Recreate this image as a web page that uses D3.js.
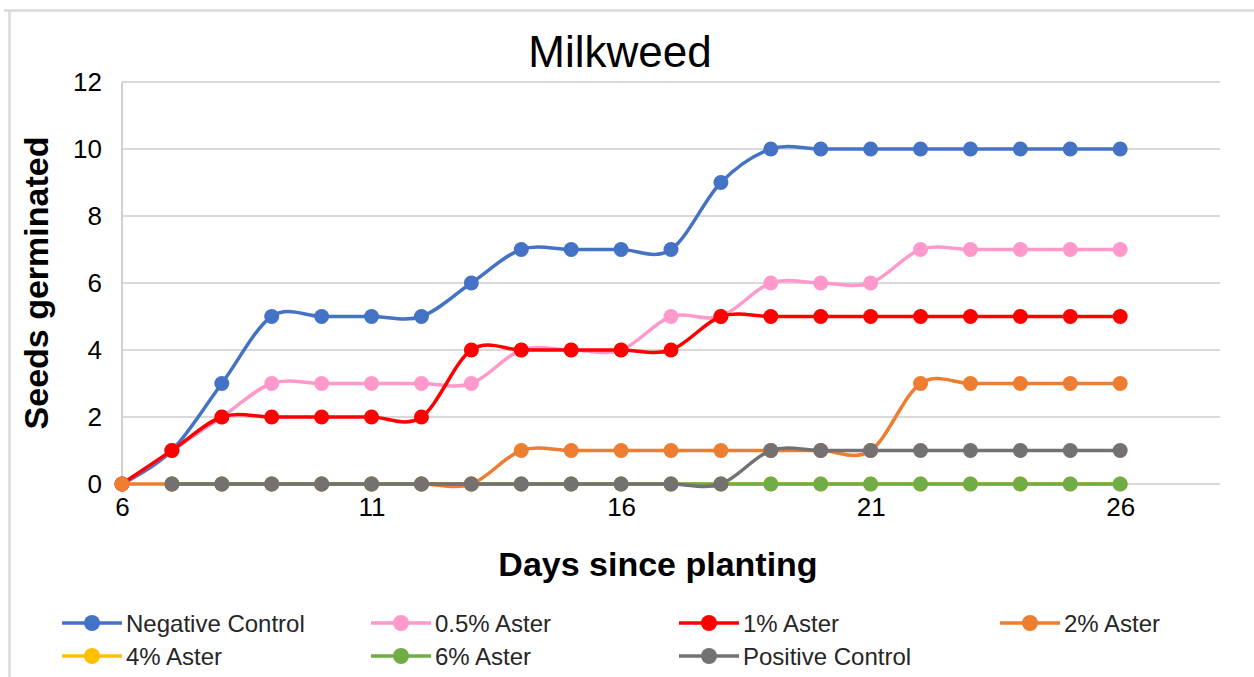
<!DOCTYPE html>
<html>
<head>
<meta charset="utf-8">
<script src="https://cdn.jsdelivr.net/npm/d3@7"></script>
<style>
  html, body { margin: 0; padding: 0; background: #fff; }
  svg { display: block; }
</style>
</head>
<body>
<svg id="chart" width="1254" height="677"></svg>
<script>
// Germination counts per day since planting (null = not recorded that day)
const days = [6, 7, 8, 9, 10, 11, 12, 13, 14, 15, 16, 17, 18, 19, 20, 21, 22, 23, 24, 25, 26];

const negativeControl = [0, 1, 3, 5, 5, 5, 5, 6, 7, 7, 7, 7, 9, 10, 10, 10, 10, 10, 10, 10, 10];
const aster05 = [0, 1, 2, 3, 3, 3, 3, 3, 4, 4, 4, 5, 5, 6, 6, 6, 7, 7, 7, 7, 7];
const aster1 = [0, 1, 2, 2, 2, 2, 2, 4, 4, 4, 4, 4, 5, 5, 5, 5, 5, 5, 5, 5, 5];
const aster2 = [0, 0, 0, 0, 0, 0, 0, 0, 1, 1, 1, 1, 1, 1, 1, 1, 3, 3, 3, 3, 3];
const aster4 = [null, 0, 0, 0, 0, 0, 0, 0, 0, 0, 0, 0, 0, 0, 0, 0, 0, 0, 0, 0, 0];
const aster6 = [null, 0, 0, 0, 0, 0, 0, 0, 0, 0, 0, 0, 0, 0, 0, 0, 0, 0, 0, 0, 0];
const positiveControl = [null, 0, 0, 0, 0, 0, 0, 0, 0, 0, 0, 0, 0, 1, 1, 1, 1, 1, 1, 1, 1];

const seriesNames = ["Negative Control", "0.5% Aster", "1% Aster", "2% Aster", "4% Aster", "6% Aster", "Positive Control"];
const seriesValues = [negativeControl, aster05, aster1, aster2, aster4, aster6, positiveControl];
const seriesColors = ["#4472C4", "#FF99CC", "#FF0000", "#ED7D31", "#FFC000", "#70AD47", "#767171"];

const xTicks = [6, 11, 16, 21, 26];
const yTicks = [0, 2, 4, 6, 8, 10, 12];

const svg = d3.select("#chart");
const font = "'Liberation Sans', Arial, sans-serif";

// outer frame (top and left edges)
svg.append("line").attr("x1", 4).attr("x2", 1254).attr("y1", 10.5).attr("y2", 10.5)
  .attr("stroke", "#d9d9d9").attr("stroke-width", 2.5);
svg.append("line").attr("x1", 9.5).attr("x2", 9.5).attr("y1", 10).attr("y2", 677)
  .attr("stroke", "#d9d9d9").attr("stroke-width", 2.5);

const x = d3.scaleLinear().domain([6, 28]).range([122, 1220]);
const y = d3.scaleLinear().domain([0, 12]).range([484, 82]);

// horizontal gridlines
svg.append("g").selectAll("line").data(yTicks).join("line")
  .attr("x1", x(6)).attr("x2", x(28))
  .attr("y1", d => y(d)).attr("y2", d => y(d))
  .attr("stroke", "#d9d9d9").attr("stroke-width", 2);

// vertical axis line
svg.append("line").attr("x1", x(6)).attr("x2", x(6)).attr("y1", y(12)).attr("y2", y(0))
  .attr("stroke", "#d0d0d0").attr("stroke-width", 2);

// y axis tick labels
const yAxis = svg.append("g").attr("transform", `translate(${x(6) - 20},0)`)
  .call(d3.axisLeft(y).tickValues(yTicks).tickSize(0).tickPadding(0));
yAxis.select(".domain").remove();
yAxis.selectAll("text").attr("font-family", font).attr("font-size", 26).attr("fill", "#000");

// x axis tick labels
const xAxis = svg.append("g").attr("transform", `translate(0,${y(0) + 14})`)
  .call(d3.axisBottom(x).tickValues(xTicks).tickFormat(d3.format("d")).tickSize(0).tickPadding(0));
xAxis.select(".domain").remove();
xAxis.selectAll("text").attr("font-family", font).attr("font-size", 26).attr("fill", "#000");

// titles
svg.append("text").attr("x", 620).attr("y", 67).attr("text-anchor", "middle")
  .attr("font-family", font).attr("font-size", 44).attr("fill", "#000").text("Milkweed");
svg.append("text").attr("x", 658).attr("y", 576).attr("text-anchor", "middle")
  .attr("font-family", font).attr("font-size", 34).attr("font-weight", "bold").attr("fill", "#000")
  .text("Days since planting");
svg.append("text").attr("transform", `translate(48,283) rotate(-90)`).attr("text-anchor", "middle")
  .attr("font-family", font).attr("font-size", 34).attr("font-weight", "bold").attr("fill", "#000")
  .text("Seeds germinated");

// series: smoothed lines with circular markers
const line = d3.line()
  .defined(d => d.v !== null)
  .x(d => x(d.day)).y(d => y(d.v))
  .curve(d3.curveCardinal.tension(0));

const plot = svg.append("g");
seriesValues.forEach((vals, i) => {
  const pts = days.map((day, k) => ({ day, v: vals[k] }));
  const g = plot.append("g");
  g.append("path").datum(pts).attr("d", line)
    .attr("fill", "none").attr("stroke", seriesColors[i]).attr("stroke-width", 3.5)
    .attr("stroke-linejoin", "round");
  g.selectAll("circle").data(pts.filter(d => d.v !== null)).join("circle")
    .attr("cx", d => x(d.day)).attr("cy", d => y(d.v)).attr("r", 7.5)
    .attr("fill", seriesColors[i]);
});

// legend
const legendCols = [62, 371, 679, 1000];
const legendRows = [623, 656];
const legend = svg.append("g");
seriesNames.forEach((name, i) => {
  const lx = legendCols[i % 4];
  const ly = legendRows[Math.floor(i / 4)];
  const item = legend.append("g").attr("transform", `translate(${lx},${ly})`);
  item.append("line").attr("x1", 0).attr("x2", 60).attr("y1", 0).attr("y2", 0)
    .attr("stroke", seriesColors[i]).attr("stroke-width", 3.5);
  item.append("circle").attr("cx", 30).attr("cy", 0).attr("r", 8).attr("fill", seriesColors[i]);
  item.append("text").attr("x", 64).attr("y", 9)
    .attr("font-family", font).attr("font-size", 24).attr("fill", "#262626").text(name);
});
</script>
</body>
</html>
